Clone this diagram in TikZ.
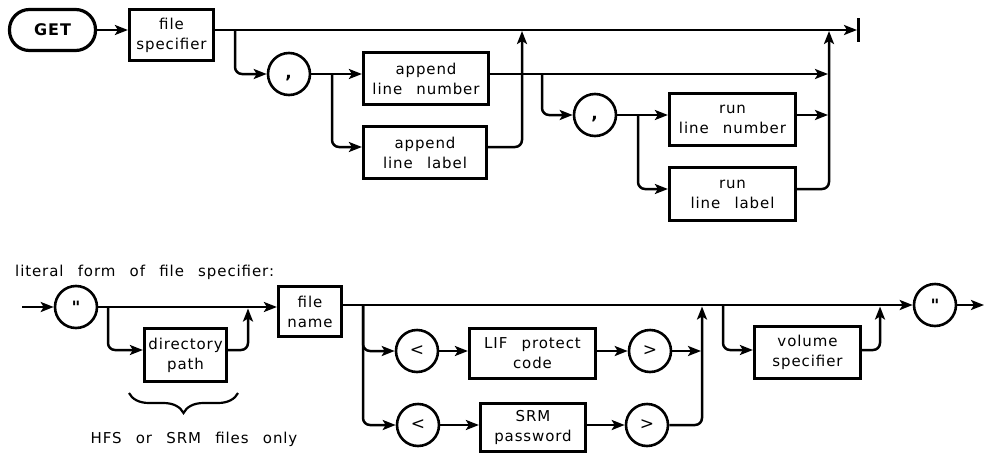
\documentclass[tikz,border=0pt]{standalone}
\usepackage{fontspec}
\setmainfont{DejaVu Sans}[LetterSpace=6]
\newfontfamily\plainfont{DejaVu Sans}
\usetikzlibrary{arrows.meta,decorations.pathreplacing}
\newcommand\bxfont{\fontsize{15}{20}\selectfont\spaceskip 0.95em\relax}
\newcommand\capfont{\fontsize{15}{18}\selectfont\spaceskip 0.95em\relax}
\begin{document}
\begin{tikzpicture}[x=1pt,y=-1pt,
  tip/.style={-{Stealth[length=13pt,width=10pt,inset=3pt]}},
  ln/.style={line width=2.5pt, rounded corners=7pt},
  box/.style={draw, line width=3.2pt, inner sep=0pt, align=center, font=\bxfont},
  circ/.style={draw, circle, line width=2.6pt, minimum size=42pt, inner sep=0pt,
    font=\fontsize{17}{17}\selectfont},
  txt/.style={inner sep=0pt, font=\capfont},
]
\useasboundingbox (0,0) rectangle (984,455);
% ---------- top diagram ----------
\node[draw, rounded corners=20pt, line width=3.2pt, minimum width=86pt, minimum height=41pt,
  font=\bfseries\fontsize{16}{16}\selectfont] (get) at (52.5,30) {GET};
\node[box, minimum width=84pt, minimum height=51pt] (fs) at (171.5,35) {file\\specifier};
\node[circ] (c1) at (289,74) {\vphantom{X}\textbf{,}};
\node[box, minimum width=125pt, minimum height=52pt] (aln) at (426,78.5) {append\\line number};
\node[box, minimum width=123pt, minimum height=52pt] (all) at (425,152.5) {append\\line label};
\node[circ] (c2) at (595,115) {\vphantom{X}\textbf{,}};
\node[box, minimum width=126pt, minimum height=52pt] (rln) at (732.5,119.5) {run\\line number};
\node[box, minimum width=126pt, minimum height=53pt] (rll) at (732.5,194) {run\\line label};

\coordinate (endA) at (857,30);
\coordinate (barT) at (858,18);
\coordinate (barB) at (858,42);
\coordinate (j1) at (235,30);
\coordinate (j2) at (332,74);
\coordinate (j3) at (542,74);
\coordinate (j4) at (638,115);
\coordinate (m1) at (522,147);
\coordinate (m1t) at (522,31);
\coordinate (k1) at (828,74);
\coordinate (k2) at (828,115);
\coordinate (k3) at (829,189);
\coordinate (k3t) at (829,31);

\draw[ln,tip] (get.east) -- (fs.west |- get.east);
\draw[ln,tip] (fs.east |- j1) -- (endA);
\draw[line width=3pt] (barT) -- (barB);
\draw[ln,tip] (j1) |- (c1.west);
\draw[ln,tip] (c1.east) -- (aln.west |- c1.east);
\draw[ln,tip] (j2) |- (all.west |- m1);
\draw[ln,tip] (aln.east |- k1) -- (k1);
\draw[ln,tip] (all.east |- m1) -- (m1) -- (m1t);
\draw[ln,tip] (j3) |- (c2.west);
\draw[ln,tip] (c2.east) -- (rln.west |- c2.east);
\draw[ln,tip] (j4) |- (rll.west |- k3);
\draw[ln,tip] (rln.east |- k2) -- (k2);
\draw[ln,tip] (rll.east |- k3) -- (k3) -- (k3t);

% ---------- bottom diagram ----------
\node[txt, anchor=base west] (lit) at (15,276) {literal form of file specifier:};
\node[circ] (q1) at (76,307) {{\plainfont\bfseries "}};
\node[box, minimum width=63pt, minimum height=50pt] (fn) at (310,311.5) {file\\name};
\node[box, minimum width=82pt, minimum height=53pt] (dp) at (185.5,355) {directory\\path};
\node[circ] (lt1) at (417,351) {<};
\node[box, minimum width=126pt, minimum height=50pt] (lif) at (532.5,353.5) {LIF protect\\code};
\node[circ] (gt1) at (650,351) {>};
\node[circ] (lt2) at (418,425) {<};
\node[box, minimum width=105pt, minimum height=48pt] (srm) at (533,427.5) {SRM\\password};
\node[circ] (gt2) at (647,425) {>};
\node[box, minimum width=106pt, minimum height=52pt] (vs) at (807.5,352.5) {volume\\specifier};
\node[circ] (q2) at (935,305) {{\plainfont\bfseries "}};
\node[txt, anchor=base] (hfs) at (194,443) {HFS or SRM files only};

\coordinate (start) at (22,307);
\coordinate (j5) at (108,307);
\coordinate (d1) at (248,350);
\coordinate (d1t) at (248,308.5);
\coordinate (j6) at (363,305);
\coordinate (p1) at (701,351);
\coordinate (p2) at (702,425);
\coordinate (p2t) at (702,306.5);
\coordinate (j7) at (723,305);
\coordinate (v1) at (880,350);
\coordinate (v1t) at (880,306.5);
\coordinate (exitB) at (984,305);
\coordinate (brL) at (129,393);
\coordinate (brR) at (238,393);

\draw[ln,tip] (start) -- (q1.west);
\draw[ln,tip] (q1.east) -- (fn.west |- q1.east);
\draw[ln,tip] (j5) |- (dp.west |- d1);
\draw[ln,tip] (dp.east |- d1) -- (d1) -- (d1t);
\draw[ln,tip] (fn.east |- j6) -- (q2.west);
\draw[ln,tip] (j6) |- (lt1.west);
\draw[ln,tip] (lt1.east) -- (lif.west |- lt1.east);
\draw[ln,tip] (lif.east |- gt1.west) -- (gt1.west);
\draw[ln,tip] (gt1.east) -- (p1);
\draw[ln,tip] (j6) |- (lt2.west);
\draw[ln,tip] (lt2.east) -- (srm.west |- lt2.east);
\draw[ln,tip] (srm.east |- gt2.west) -- (gt2.west);
\draw[ln,tip] (gt2.east) -- (p2) -- (p2t);
\draw[ln,tip] (j7) |- (vs.west |- v1);
\draw[ln,tip] (vs.east |- v1) -- (v1) -- (v1t);
\draw[ln,tip] (q2.east) -- (exitB);
\draw[line width=2.2pt, decorate, decoration={brace, mirror, amplitude=20pt}] (brL) -- (brR);
\end{tikzpicture}
\end{document}
